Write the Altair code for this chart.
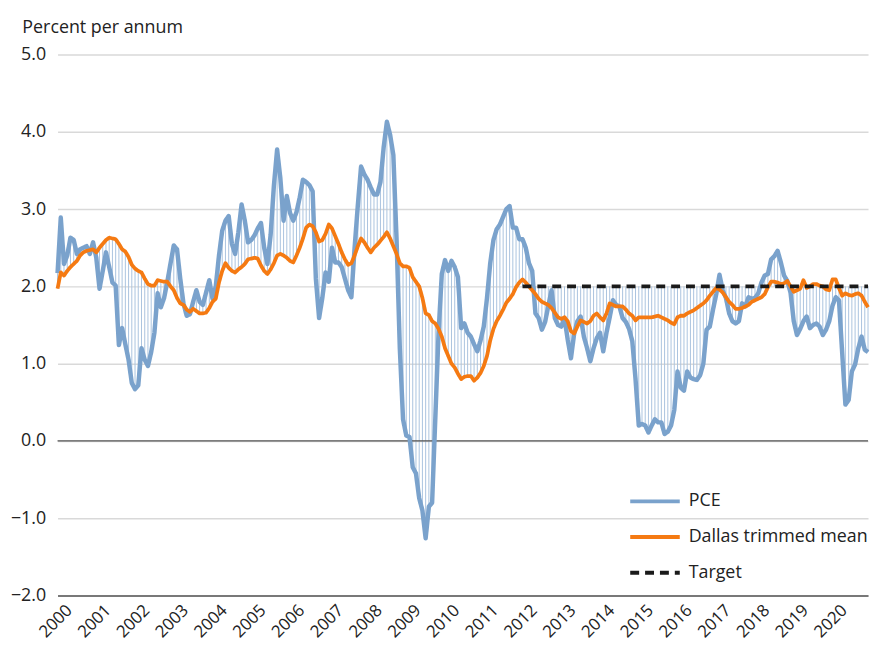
import altair as alt
import pandas as pd

# Monthly values, Jan 2000 .. Dec 2020
pce_by_year = {
    2000: [2.17, 2.89, 2.29, 2.40, 2.63, 2.60, 2.42, 2.48, 2.50, 2.52, 2.42, 2.57],
    2001: [2.37, 1.97, 2.20, 2.44, 2.25, 2.05, 2.01, 1.24, 1.46, 1.25, 1.05, 0.75],
    2002: [0.67, 0.72, 1.20, 1.05, 0.97, 1.15, 1.40, 1.91, 1.73, 1.85, 2.06, 2.30],
    2003: [2.53, 2.48, 2.10, 1.78, 1.62, 1.64, 1.80, 1.95, 1.80, 1.76, 1.92, 2.08],
    2004: [1.84, 2.00, 2.40, 2.72, 2.85, 2.91, 2.55, 2.42, 2.70, 3.06, 2.85, 2.57],
    2005: [2.60, 2.66, 2.75, 2.82, 2.50, 2.29, 2.67, 3.30, 3.77, 3.40, 2.85, 3.17],
    2006: [2.95, 2.85, 2.96, 3.15, 3.38, 3.35, 3.31, 3.23, 2.10, 1.59, 1.85, 2.18],
    2007: [2.06, 2.50, 2.31, 2.31, 2.25, 2.10, 1.95, 1.86, 2.50, 3.05, 3.55, 3.45],
    2008: [3.38, 3.28, 3.19, 3.19, 3.35, 3.80, 4.13, 3.96, 3.70, 2.60, 1.20, 0.28],
    2009: [0.07, 0.05, -0.34, -0.42, -0.74, -0.90, -1.26, -0.85, -0.80, 0.30, 1.40, 2.16],
    2010: [2.34, 2.20, 2.33, 2.25, 2.12, 1.46, 1.52, 1.40, 1.35, 1.25, 1.16, 1.30],
    2011: [1.48, 1.85, 2.30, 2.60, 2.74, 2.80, 2.90, 3.00, 3.04, 2.76, 2.76, 2.61],
    2012: [2.61, 2.50, 2.30, 2.20, 1.65, 1.59, 1.44, 1.54, 1.75, 1.95, 1.59, 1.50],
    2013: [1.48, 1.59, 1.31, 1.07, 1.39, 1.55, 1.61, 1.35, 1.20, 1.03, 1.20, 1.33],
    2014: [1.40, 1.16, 1.40, 1.60, 1.82, 1.76, 1.74, 1.59, 1.54, 1.45, 1.29, 0.80],
    2015: [0.20, 0.22, 0.20, 0.11, 0.20, 0.28, 0.24, 0.24, 0.09, 0.12, 0.20, 0.40],
    2016: [0.90, 0.69, 0.65, 0.90, 0.82, 0.80, 0.79, 0.85, 1.00, 1.44, 1.48, 1.70],
    2017: [1.90, 2.15, 1.95, 1.85, 1.65, 1.55, 1.52, 1.55, 1.78, 1.74, 1.86, 1.84],
    2018: [1.85, 1.91, 2.05, 2.14, 2.16, 2.35, 2.39, 2.46, 2.31, 2.14, 2.07, 1.92],
    2019: [1.55, 1.37, 1.45, 1.55, 1.61, 1.46, 1.50, 1.52, 1.48, 1.37, 1.44, 1.55],
    2020: [1.75, 1.86, 1.82, 1.14, 0.47, 0.53, 0.90, 0.99, 1.20, 1.35, 1.18, 1.15],
}
trim_by_year = {
    2000: [1.97, 2.18, 2.14, 2.20, 2.25, 2.29, 2.33, 2.40, 2.44, 2.46, 2.47, 2.48],
    2001: [2.44, 2.50, 2.55, 2.60, 2.63, 2.62, 2.61, 2.55, 2.48, 2.45, 2.38, 2.28],
    2002: [2.23, 2.20, 2.18, 2.10, 2.03, 2.01, 2.01, 2.08, 2.07, 2.06, 2.06, 2.00],
    2003: [1.95, 1.85, 1.78, 1.76, 1.70, 1.67, 1.71, 1.68, 1.65, 1.65, 1.66, 1.72],
    2004: [1.80, 1.84, 2.05, 2.20, 2.30, 2.24, 2.20, 2.18, 2.22, 2.25, 2.29, 2.35],
    2005: [2.36, 2.37, 2.36, 2.27, 2.20, 2.16, 2.22, 2.30, 2.40, 2.42, 2.40, 2.37],
    2006: [2.33, 2.31, 2.40, 2.50, 2.62, 2.76, 2.80, 2.78, 2.70, 2.58, 2.60, 2.68],
    2007: [2.80, 2.75, 2.65, 2.55, 2.44, 2.35, 2.28, 2.30, 2.40, 2.52, 2.62, 2.57],
    2008: [2.50, 2.44, 2.50, 2.54, 2.59, 2.64, 2.70, 2.62, 2.52, 2.42, 2.30, 2.26],
    2009: [2.26, 2.24, 2.12, 2.06, 2.00, 1.85, 1.65, 1.63, 1.55, 1.52, 1.45, 1.35],
    2010: [1.20, 1.10, 1.00, 0.95, 0.87, 0.80, 0.83, 0.84, 0.84, 0.78, 0.82, 0.88],
    2011: [0.97, 1.10, 1.30, 1.45, 1.55, 1.62, 1.70, 1.79, 1.84, 1.90, 1.99, 2.05],
    2012: [2.09, 2.05, 2.00, 1.95, 1.90, 1.84, 1.80, 1.78, 1.76, 1.72, 1.66, 1.60],
    2013: [1.58, 1.60, 1.55, 1.42, 1.39, 1.48, 1.56, 1.54, 1.52, 1.55, 1.62, 1.65],
    2014: [1.60, 1.56, 1.65, 1.78, 1.76, 1.74, 1.74, 1.74, 1.70, 1.65, 1.62, 1.56],
    2015: [1.60, 1.60, 1.60, 1.60, 1.60, 1.61, 1.62, 1.60, 1.58, 1.56, 1.53, 1.51],
    2016: [1.60, 1.62, 1.62, 1.65, 1.67, 1.69, 1.72, 1.75, 1.78, 1.82, 1.88, 1.93],
    2017: [1.98, 1.96, 1.92, 1.86, 1.80, 1.76, 1.71, 1.71, 1.72, 1.74, 1.76, 1.80],
    2018: [1.82, 1.84, 1.86, 1.90, 1.99, 2.06, 2.06, 2.05, 2.03, 2.04, 2.07, 2.00],
    2019: [1.93, 1.95, 1.97, 2.08, 1.98, 2.00, 2.03, 2.03, 2.01, 2.00, 1.96, 1.95],
    2020: [2.09, 2.09, 1.98, 1.88, 1.91, 1.89, 1.88, 1.90, 1.91, 1.88, 1.80, 1.73],
}
target_value = 2.0
target_start = 2012.0
years = list(range(2000, 2021))
series_names = ["PCE", "Dallas trimmed mean", "Target"]
series_colors = ["#7aa2cc", "#f57a12", "#1a1a1a"]

# ---- build tables ----
t_vals, pce_vals, trim_vals = [], [], []
for yr in years:
    for m in range(12):
        t_vals.append(yr + m / 12)
        pce_vals.append(pce_by_year[yr][m])
        trim_vals.append(trim_by_year[yr][m])
t_end = t_vals[-1]

base = pd.DataFrame({"t": t_vals, "pce": pce_vals, "trim": trim_vals})
base["low"] = [target_value if t >= target_start else tr for t, tr in zip(base["t"], base["trim"])]

pce_df = pd.DataFrame({"t": t_vals, "v": pce_vals, "series": "PCE"})
trim_df = pd.DataFrame({"t": t_vals, "v": trim_vals, "series": "Dallas trimmed mean"})
tgt_df = pd.DataFrame({"t": [target_start, t_end], "v": [target_value, target_value], "series": "Target"})

FONT = "Open Sans"
xscale = alt.Scale(domain=[2000, t_end], nice=False, zero=False)
yscale = alt.Scale(domain=[-2, 5], nice=False)

xaxis = alt.Axis(
    values=[y + 0.3 for y in years],
    labelExpr="'' + floor(datum.value)",
    labelAngle=-45, labelAlign="right", labelBaseline="middle",
    labelFontSize=17, labelFont=FONT, labelColor="#222", labelPadding=12,
    labelOverlap=False, labelBound=False, labelFlush=False,
    grid=False, ticks=False, domain=True, domainColor="#555", domainWidth=1.5,
    title=None,
)
yaxis = alt.Axis(
    values=[-2, -1, 0, 1, 2, 3, 4, 5],
    labelExpr="replace(format(datum.value, '.1f'), '-', '–')",
    labelFontSize=18, labelFont=FONT, labelColor="#222", labelPadding=12,
    grid=True, gridColor="#d9d9d9", gridWidth=1.5,
    ticks=False, domain=False,
    title="Percent per annum", titleAngle=0, titleAlign="left", titleBaseline="alphabetic",
    titleX=-36, titleY=-22, titleFontSize=18, titleFont=FONT, titleFontWeight="normal",
    titleColor="#222",
)

legend_opts = dict(
    title=None, orient="none", legendX=576, legendY=424,
    symbolType="stroke", symbolSize=2500, symbolStrokeWidth=4,
    labelFontSize=18, labelFont=FONT, labelColor="#222", labelLimit=400,
    rowPadding=-21, labelOffset=7,
)
color = alt.Color("series:N", scale=alt.Scale(domain=series_names, range=series_colors),
                  legend=alt.Legend(**legend_opts))
dash = alt.StrokeDash("series:N", scale=alt.Scale(domain=series_names, range=[[1, 0], [1, 0], [9, 6]]),
                      legend=alt.Legend(**legend_opts))

hatch = alt.Chart(base).mark_rule(color="#aac3df", strokeWidth=1).encode(
    x=alt.X("t:Q", scale=xscale, axis=xaxis),
    y=alt.Y("pce:Q", scale=yscale, axis=yaxis),
    y2="low:Q",
)
zero = alt.Chart(pd.DataFrame({"z": [0]})).mark_rule(color="#555", strokeWidth=1.3).encode(
    y=alt.Y("z:Q", scale=yscale)
)

def line(df, width):
    return alt.Chart(df).mark_line(strokeWidth=width, strokeJoin="round", strokeCap="butt").encode(
        x=alt.X("t:Q", scale=xscale),
        y=alt.Y("v:Q", scale=yscale),
        color=color,
        strokeDash=dash,
    )

chart = alt.layer(
    hatch, zero, line(pce_df, 4.5), line(trim_df, 3.8), line(tgt_df, 4)
).properties(
    width=818, height=546,
    autosize=alt.AutoSizeParams(type="none"),
    padding={"left": 50, "top": 44, "right": 2, "bottom": 48},
).configure_view(stroke=None)

chart.save("out.html", embed_options={"renderer": "svg", "actions": False})
